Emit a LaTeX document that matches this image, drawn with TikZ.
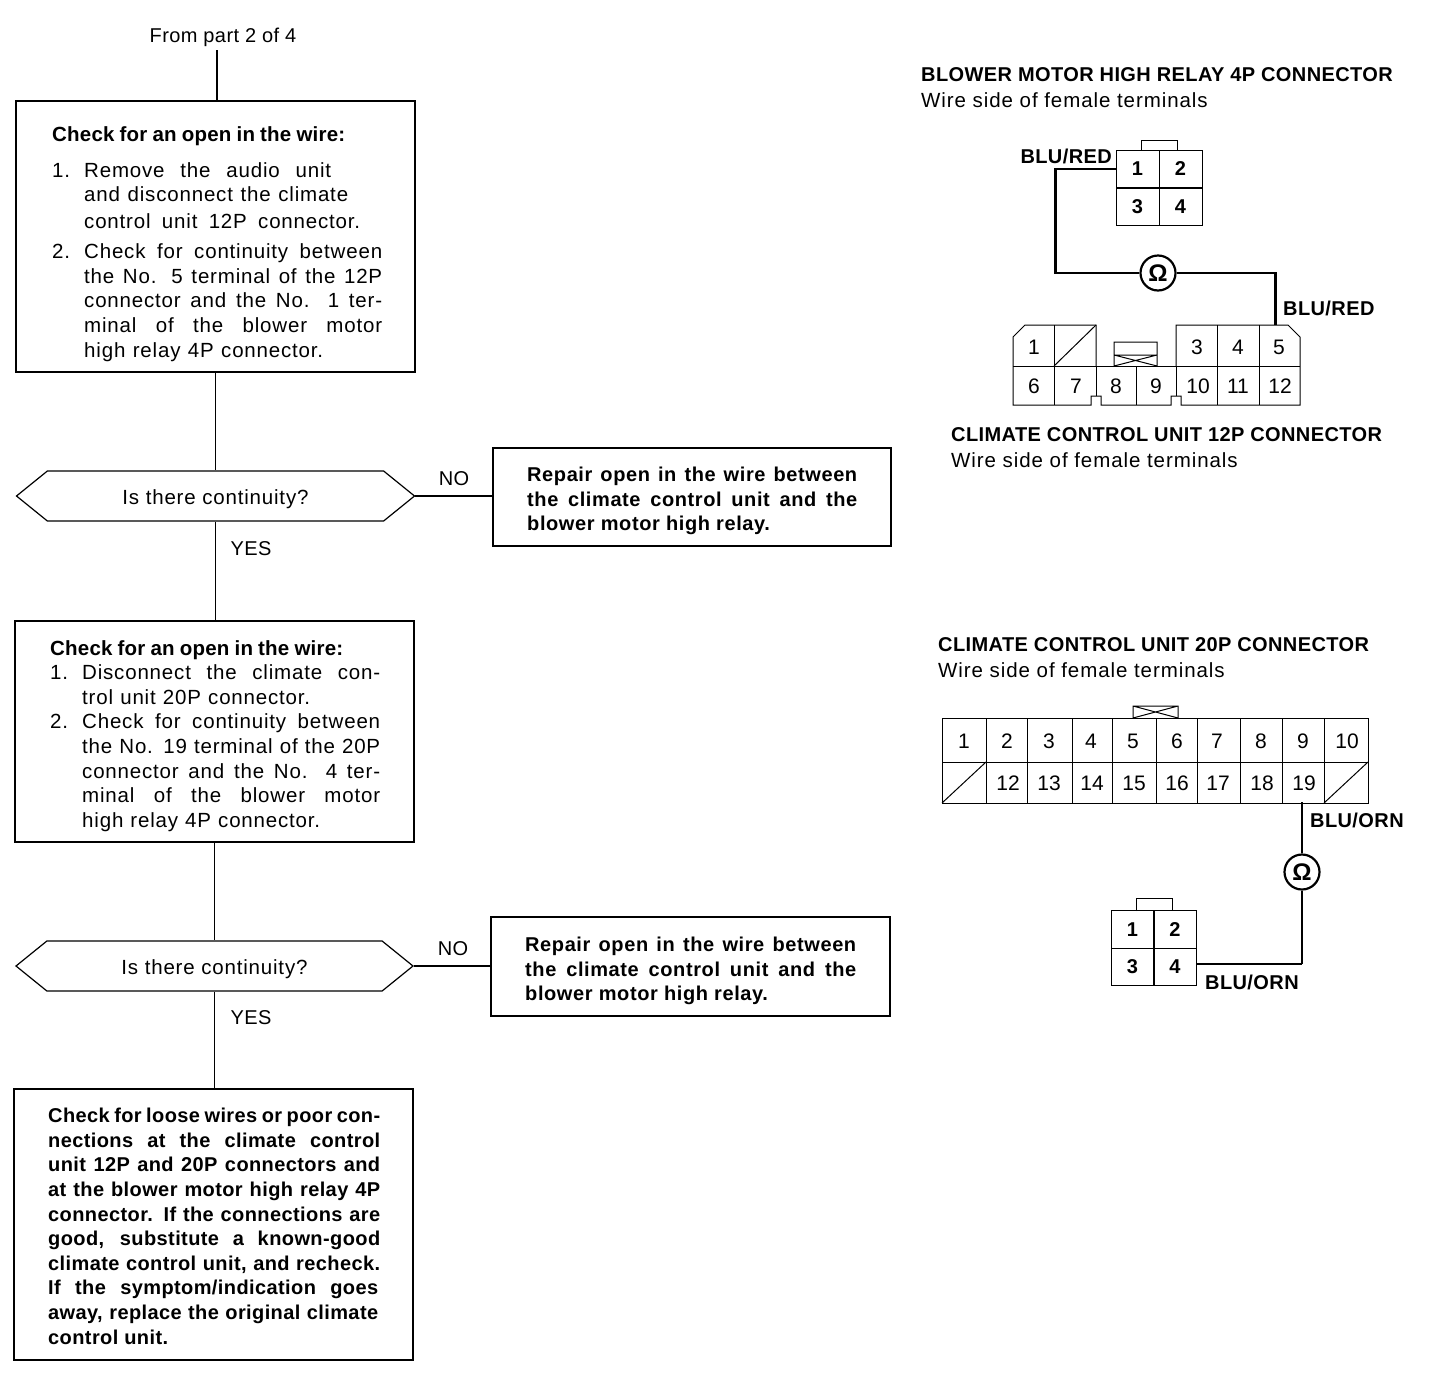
\documentclass[tikz,border=0pt]{standalone}
\usepackage{fontspec}
\setmainfont{Liberation Sans}
\usetikzlibrary{shapes.symbols}

\newcommand{\spread}{\addfontfeature{LetterSpace=4}}
\newcommand{\tight}{\addfontfeature{LetterSpace=2}}
\tikzset{
	flowbox/.style={draw, line width=1.2pt, minimum width=#1, inner sep=0pt},
	flowbox/.default=399pt,
	choice/.style={draw, line width=1.2pt, signal, signal to=east and west, signal pointer angle=78,
		minimum width=398pt, minimum height=50pt, inner sep=0pt, text height=20pt, text depth=4pt,
		font=\fontsize{20.5}{24}\selectfont\spread},
	body/.style={anchor=north west, inner sep=0pt, align=left, font=\fontsize{20.5}{24.6}\selectfont\spread},
	bodybold/.style={anchor=north west, inner sep=0pt, align=left, font=\fontsize{20}{24.6}\selectfont\bfseries\addfontfeature{LetterSpace=3}},
	denser/.style={font=\fontsize{20}{24.6}\selectfont\bfseries\tight},
	tag/.style={inner sep=0pt, font=\fontsize{20}{24}\selectfont\tight},
	wirelabel/.style={inner sep=0pt, font=\fontsize{20}{24}\selectfont\bfseries\tight},
	headline/.style={anchor=west, inner sep=0pt, font=\fontsize{20}{24}\selectfont\bfseries\tight},
	subline/.style={anchor=west, inner sep=0pt, font=\fontsize{20.5}{24}\selectfont\addfontfeature{LetterSpace=4.5}},
	cell/.style={minimum width=#1, minimum height=38pt, inner sep=0pt, font=\fontsize{21}{24}\selectfont},
	cell/.default=43pt,
	keycell/.style={draw, line width=1pt, minimum width=43pt, minimum height=37.5pt, inner sep=0pt, font=\fontsize{20}{24}\selectfont\bfseries},
	shell/.style={line width=1pt},
	wire/.style={line width=2.6pt},
	thinwire/.style={line width=1.2pt},
	ohm/.style={draw, circle, line width=2.2pt, minimum size=35pt, inner sep=0pt, font=\fontsize{24}{24}\selectfont\bfseries},
}
\newcommand{\itemline}[2]{\makebox[32pt][l]{#1}#2}
\newcommand{\fitline}[2]{\makebox[#1pt][s]{#2}}
\newcommand{\boxhead}[1]{{\bfseries\addfontfeature{LetterSpace=1}\fitline{293}{#1}}}

\begin{document}
\begin{tikzpicture}[x=1pt, y=-1pt]
	\useasboundingbox (0,0) rectangle (1440,1392);

	% flow on the left
	\node[tag] (frompart) at (223,37) {From part 2 of 4};

	\node[flowbox, minimum height=271pt] (check1) at (215.5,236.5) {};
	\node[body] (check1text) at (52,126.5) {\boxhead{Check for an open in the wire:}\\[11pt]
		\itemline{1.}{\fitline{247}{Remove the audio unit}}\\
		\itemline{}{\fitline{264}{and disconnect the climate}}\\[2.4pt]
		\itemline{}{\fitline{276}{control unit 12P connector.}}\\[5.4pt]
		\itemline{2.}{\fitline{298}{Check for continuity between}}\\
		\itemline{}{\fitline{298}{the No. 5 terminal of the 12P}}\\
		\itemline{}{\fitline{298}{connector and the No. 1 ter-}}\\
		\itemline{}{\fitline{298}{minal of the blower motor}}\\
		\itemline{}{\fitline{239}{high relay 4P connector.}}};

	\node[choice] (ask1) at (215.5,496) {Is there continuity?};
	\node[flowbox=398pt, minimum height=98pt] (fix1) at (692,497) {};
	\node[bodybold] (fix1text) at (527,467) {\fitline{330}{Repair open in the wire between}\\\fitline{330}{the climate control unit and the}\\blower motor high relay.};
	\node[tag] (no1) at (454,479) {NO};
	\node[tag] (yes1) at (251,549) {YES};

	\node[flowbox, minimum height=221pt] (check2) at (214.5,731.5) {};
	\node[body] (check2text) at (50,640) {\boxhead{Check for an open in the wire:}\\
		\itemline{1.}{\fitline{298}{Disconnect the climate con-}}\\
		\itemline{}{\fitline{228}{trol unit 20P connector.}}\\
		\itemline{2.}{\fitline{298}{Check for continuity between}}\\
		\itemline{}{\fitline{298}{the No. 19 terminal of the 20P}}\\
		\itemline{}{\fitline{298}{connector and the No. 4 ter-}}\\
		\itemline{}{\fitline{298}{minal of the blower motor}}\\
		\itemline{}{\fitline{238}{high relay 4P connector.}}};

	\node[choice, minimum width=397pt] (ask2) at (214.5,966) {Is there continuity?};
	\node[flowbox=399pt, minimum height=99pt] (fix2) at (690.5,966.5) {};
	\node[bodybold] (fix2text) at (525,937) {\fitline{331}{Repair open in the wire between}\\\fitline{331}{the climate control unit and the}\\blower motor high relay.};
	\node[tag] (no2) at (453,949) {NO};
	\node[tag] (yes2) at (251,1018) {YES};

	\node[flowbox, minimum height=271pt] (final) at (213.5,1224.5) {};
	\node[bodybold, denser] (finaltext) at (48,1108) {\fitline{332}{Check for loose wires or poor con-}\\
		\fitline{332}{nections at the climate control}\\
		\fitline{332}{unit 12P and 20P connectors and}\\
		\fitline{332}{at the blower motor high relay 4P}\\
		\fitline{332}{connector. If the connections are}\\
		\fitline{332}{good, substitute a known-good}\\
		\fitline{332}{climate control unit, and recheck.}\\
		\fitline{330}{If the symptom/indication goes}\\
		\fitline{330}{away, replace the original climate}\\
		control unit.};

	\coordinate (topend) at (217,50);
	\draw[thinwire] (topend) -- (topend |- check1.north);
	\draw[thinwire] (check1) -- (ask1.north);
	\draw[thinwire] (ask1.south) -- (ask1.south |- check2.north);
	\draw[thinwire] (check2) -- (ask2.north);
	\draw[thinwire] (ask2.south) -- (ask2.south |- final.north);
	\draw[thinwire] (ask1.east) -- (ask1.east -| fix1.west);
	\draw[thinwire] (ask2.east) -- (ask2.east -| fix2.west);

	% blower motor relay
	\node[headline] (head1) at (921,75) {BLOWER MOTOR HIGH RELAY 4P CONNECTOR};
	\node[subline] (sub1) at (921,100) {Wire side of female terminals};
	\draw[shell] (1141,150) -- (1141,140) -- (1177,140) -- (1177,150);
	\foreach \n/\x/\y in {1/1137.5/169,2/1180.5/169,3/1137.5/207,4/1180.5/207}
		\node[keycell] (ra\n) at (\x,\y) {\n};
	\node[wirelabel, anchor=east] (blured1) at (1112,156) {BLU/RED};
	\node[wirelabel, anchor=west] (blured2) at (1283,308) {BLU/RED};

	% climate 12P
	\draw[shell] (1096,366) -- (1096,325) -- (1054,325) -- (1025,325) -- (1013,337) -- (1013,405)
		-- (1091,405) -- (1091,396) -- (1101,396) -- (1101,405) -- (1171,405) -- (1171,396)
		-- (1181,396) -- (1181,405) -- (1300,405) -- (1300,337) -- (1288,325) -- (1176,325) -- (1176,366);
	\draw[shell] (1013,366) -- (1300,366);
	\draw[shell] (1054,325) -- (1054,405) (1096,366) -- (1096,396) (1136,366) -- (1136,405)
		(1176,366) -- (1176,396) (1217,325) -- (1217,405) (1259,325) -- (1259,405);
	\draw[shell] (1054,366) -- (1096,325);
	\draw[shell] (1114,366) -- (1114,342) -- (1157,342) -- (1157,366) (1114,355) -- (1157,355)
		(1114,355) -- (1157,366) (1114,366) -- (1157,355);
	\foreach \n/\x/\y in {1/1034/347,3/1197/347,4/1238/347,5/1279/347,
		6/1034/386,7/1076/386,8/1116/386,9/1156/386,10/1198/386,11/1238/386,12/1280/386}
		\node[cell] (cc\n) at (\x,\y) {\n};
	\node[headline] (head2) at (951,435) {CLIMATE CONTROL UNIT 12P CONNECTOR};
	\node[subline] (sub2) at (951,460) {Wire side of female terminals};

	\node[ohm] (ohm1) at (1158,273) {Ω};
	\draw[wire] (ra1.west) -- ++(-60,0) |- (ohm1);
	\draw[wire] (ohm1) -| ([xshift=-3.5pt]cc5.north |- 0,325);

	% climate 20P
	\node[headline] (head3) at (938,645) {CLIMATE CONTROL UNIT 20P CONNECTOR};
	\node[subline] (sub3) at (938,670) {Wire side of female terminals};
	\draw[shell] (942,718) rectangle (1368,803);
	\draw[shell] (942,762) -- (1368,762);
	\foreach \x in {986,1027,1072,1112,1156,1197,1240,1282,1324}
		\draw[shell] (\x,718) -- (\x,803);
	\draw[shell] (942,803) -- (986,762) (1324,803) -- (1368,762);
	\draw[shell] (1133,718) -- (1133,706) -- (1178,706) -- (1178,718)
		(1133,706) -- (1178,718) (1133,718) -- (1178,706);
	\foreach \n/\x in {1/964,2/1007,3/1049,4/1091,5/1133,6/1177,7/1217,8/1261,9/1303,10/1347}
		\node[cell] (cd\n) at (\x,741) {\n};
	\foreach \n/\x in {12/1008,13/1049,14/1092,15/1134,16/1177,17/1218,18/1262,19/1304}
		\node[cell] (cd\n) at (\x,783) {\n};

	% relay, lower one
	\draw[shell] (1136,911) -- (1136,898) -- (1172,898) -- (1172,911);
	\foreach \n/\x/\y in {1/1132.5/929.5,2/1175/929.5,3/1132.5/967,4/1175/967}
		\node[keycell] (rb\n) at (\x,\y) {\n};
	\node[ohm] (ohm2) at (1302,872) {Ω};
	\draw[line width=1.8pt] (ohm2) -- (ohm2 |- cd19.south);
	\draw[wire] (ohm2) -- ++(0,92) coordinate (bend);
	\draw[line width=1.8pt] (bend) -- (bend -| rb4.east);
	\node[wirelabel, anchor=west] (bluorn1) at (1310,820) {BLU/ORN};
	\node[wirelabel, anchor=west] (bluorn2) at (1205,982) {BLU/ORN};

\end{tikzpicture}
\end{document}
